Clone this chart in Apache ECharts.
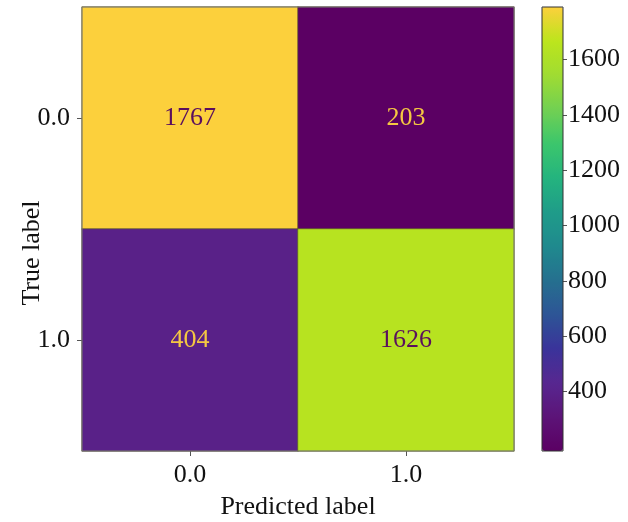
<!DOCTYPE html>
<html>
<head>
<meta charset="utf-8">
<script src="https://cdn.jsdelivr.net/npm/echarts@6/dist/echarts.min.js"></script>
<style>html,body{margin:0;padding:0;background:#fff}#c{width:628px;height:522px}</style>
</head>
<body>
<div id="c"></div>
<script>
const predictedLabels = ['0.0', '1.0'];
const trueLabels = ['0.0', '1.0'];
// rows = true label, columns = predicted label
const matrix = [
  [1767, 203],
  [404, 1626]
];
const colorbarTicks = [400, 600, 800, 1000, 1200, 1400, 1600];
const colorbarRange = [185, 1790];
const cmapColors = ['#5b0063','#5c1478','#572790','#3a339a','#2d5596','#25708f','#1f8a8e',
  '#1f9c89','#24b47e','#3cc66c','#72d052','#a0dc32','#bce51c','#fcd03c'];

const vmin = Math.min(...matrix.flat());
const vmax = Math.max(...matrix.flat());
const FONT = '"Liberation Serif", "Times New Roman", serif';

const data = [];
matrix.forEach((row, r) => row.forEach((v, c) => {
  const light = (v - vmin) / (vmax - vmin) > 0.5;
  data.push({ value: [c, r, v], label: { color: light ? '#5a0f5e' : '#f5c842' } });
}));

const chart = echarts.init(document.getElementById('c'), null, { renderer: 'canvas' });
chart.setOption({
  animation: false,
  backgroundColor: '#fff',
  textStyle: { fontFamily: FONT },
  grid: [
    { left: 82, top: 7, width: 432, height: 444, containLabel: false, outerBoundsMode: 'none',
      show: true, borderColor: '#777', borderWidth: 1, backgroundColor: 'transparent', z: 5 },
    { left: 542, top: 7, width: 21, height: 444, containLabel: false, outerBoundsMode: 'none',
      show: true, borderColor: '#333', borderWidth: 1, backgroundColor: 'transparent', z: 10 }
  ],
  xAxis: [
    { type: 'category', gridIndex: 0, data: predictedLabels, position: 'bottom',
      axisLine: { show: false },
      axisTick: { show: true, alignWithLabel: true, length: 5, lineStyle: { color: '#555' } },
      axisLabel: { fontFamily: FONT, fontSize: 26, color: '#111', margin: 11 },
      splitLine: { show: false },
      name: 'Predicted label', nameLocation: 'middle', nameGap: 43,
      nameTextStyle: { fontFamily: FONT, fontSize: 26, color: '#111' } },
    { type: 'category', gridIndex: 1, data: [''], show: false }
  ],
  yAxis: [
    { type: 'category', gridIndex: 0, data: trueLabels, inverse: true,
      axisLine: { show: false },
      axisTick: { show: true, alignWithLabel: true, length: 5, lineStyle: { color: '#555' } },
      axisLabel: { fontFamily: FONT, fontSize: 26, color: '#111', margin: 12 },
      splitLine: { show: false },
      name: 'True label', nameLocation: 'middle', nameGap: 37, nameRotate: 90, nameMoveOverlap: false,
      nameTextStyle: { fontFamily: FONT, fontSize: 26, color: '#111', padding: [0, 48, 0, 0] } },
    { type: 'value', gridIndex: 1, position: 'right', min: colorbarRange[0], max: colorbarRange[1],
      axisLine: { show: false },
      splitLine: { show: false },
      axisTick: { show: true, length: 4, customValues: colorbarTicks, lineStyle: { color: '#555' } },
      axisLabel: { show: true, customValues: colorbarTicks, formatter: v => String(v),
        fontFamily: FONT, fontSize: 26, color: '#111', margin: 5 } }
  ],
  visualMap: {
    type: 'continuous', min: vmin, max: vmax, calculable: false, seriesIndex: 0, dimension: 2,
    left: 542, top: 7, itemWidth: 21, itemHeight: 444, padding: 0, orient: 'vertical',
    text: null, showLabel: false, hoverLink: false,
    inRange: { color: cmapColors }
  },
  series: [{
    type: 'heatmap', xAxisIndex: 0, yAxisIndex: 0, data: data,
    label: { show: true, fontFamily: FONT, fontSize: 26, formatter: p => p.value[2] },
    itemStyle: { borderColor: 'rgba(90,90,40,0.6)', borderWidth: 1 },
    emphasis: { disabled: true }
  }]
});
</script>
</body>
</html>
